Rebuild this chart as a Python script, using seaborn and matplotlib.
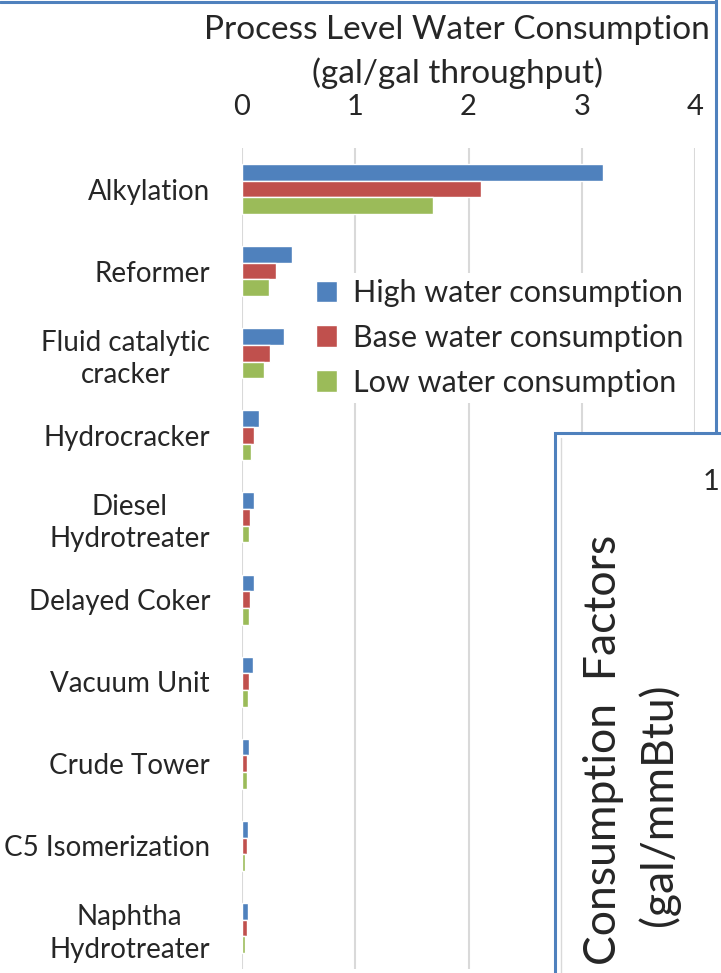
import numpy as np
import pandas as pd
import matplotlib
matplotlib.use("Agg")
import matplotlib.pyplot as plt
from matplotlib.patches import Rectangle
from matplotlib.lines import Line2D
import seaborn as sns

# data
processes = ["Alkylation", "Reformer", "Fluid catalytic\ncracker", "Hydrocracker",
             "Diesel\nHydrotreater", "Delayed Coker", "Vacuum Unit", "Crude Tower",
             "C5 Isomerization", "Naphtha\nHydrotreater"]
high = [3.19, 0.44, 0.37, 0.15, 0.11, 0.11, 0.10, 0.06, 0.05, 0.05]
base = [2.11, 0.30, 0.25, 0.11, 0.07, 0.07, 0.06, 0.04, 0.04, 0.04]
low = [1.69, 0.24, 0.19, 0.08, 0.06, 0.06, 0.05, 0.04, 0.03, 0.03]
scenarios = ["High water consumption", "Base water consumption", "Low water consumption"]
xticks = [0, 1, 2, 3, 4]

df = pd.DataFrame({
    "process": processes * 3,
    "value": high + base + low,
    "scenario": [s for s in scenarios for _ in processes],
})

colors = ["#4F81BD", "#C0504D", "#9BBB59"]
blue_border = "#4F81BD"

sns.set_style("white")
plt.rcParams["font.family"] = ["Lato", "DejaVu Sans"]

fig = plt.figure(figsize=(7.21, 9.73), dpi=100)
ax = fig.add_axes([242 / 721, 1 - 969 / 973, (695 - 242) / 721, (969 - 148) / 973])

sns.barplot(data=df, y="process", x="value", hue="scenario", orient="h",
            palette=colors, width=0.61, ax=ax, saturation=1, legend=True)

ax.set_xlim(0, 4)
ax.set_ylim(len(processes) - 0.5, -0.5)
ax.set_xticks(xticks)
ax.xaxis.tick_top()
ax.xaxis.set_label_position("top")
ax.set_xlabel("Process Level Water Consumption\n(gal/gal throughput)", fontsize=24,
              labelpad=8, linespacing=1.5)
ax.xaxis.label.set_x((457 - 242) / (695 - 242))
ax.set_ylabel("")
ax.tick_params(axis="x", length=0, pad=20, labelsize=21)
ax.tick_params(axis="y", length=0, pad=23, labelsize=20)
for lab in ax.get_yticklabels():
    lab.set_multialignment("center")
    lab.set_linespacing(1.3)

for s in ax.spines.values():
    s.set_visible(False)
ax.grid(axis="x", color="#D9D9D9", linewidth=1.5)
ax.set_axisbelow(True)

leg = ax.legend(loc="upper left", bbox_to_anchor=(0.15, 0.848), frameon=True,
                fontsize=22, handlelength=0.7, handleheight=0.7, handletextpad=0.5,
                labelspacing=0.55, borderpad=0.2, borderaxespad=0)
leg.get_frame().set_facecolor("white")
leg.get_frame().set_edgecolor("none")
leg.get_frame().set_alpha(1)

# frame of this chart (top and right edge)
fig.add_artist(Line2D([0, 716 / 721], [1 - 1.5 / 973, 1 - 1.5 / 973], color=blue_border, lw=2.2))
fig.add_artist(Line2D([716 / 721, 716 / 721], [1, 1 - 433 / 973], color=blue_border, lw=2.2))

# overlapping neighbour chart
x0, y0 = 555 / 721, 1 - 433 / 973
fig.add_artist(Rectangle((x0, -0.01), 1.05 - x0, y0 + 0.01, transform=fig.transFigure,
                         facecolor="white", edgecolor=blue_border, lw=2.2, zorder=10))
fig.add_artist(Line2D([561 / 721, 561 / 721], [0, 1 - 438 / 973], color="#D9D9D9", lw=1, zorder=11))
fig.text(703 / 721, 1 - 482 / 973, "1", fontsize=21, va="center", ha="left", zorder=12)
fig.text(604 / 721, 1 - 750 / 973, "Consumption  Factors", fontsize=32, rotation=90,
         va="center", ha="center", zorder=12)
fig.text(659 / 721, 1 - 805 / 973, "(gal/mmBtu)", fontsize=32, rotation=90,
         va="center", ha="center", zorder=12)

fig.savefig("out.png", dpi=100)
